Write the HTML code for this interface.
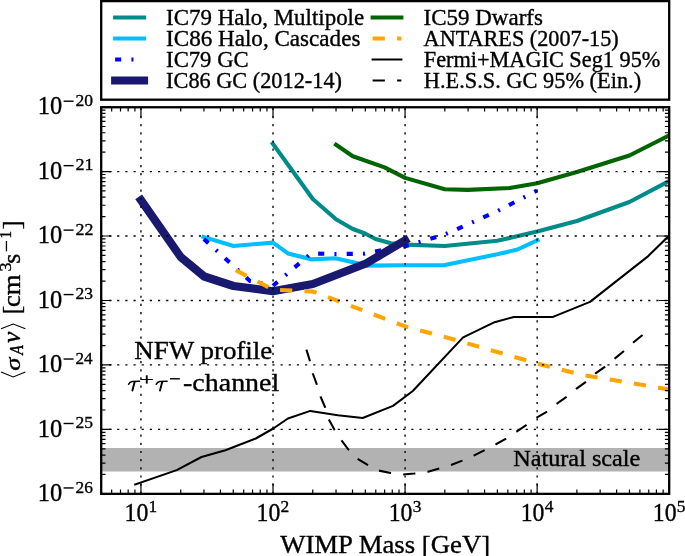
<!DOCTYPE html><html><head><meta charset="utf-8"><style>html,body{margin:0;padding:0;background:#fff;width:685px;height:556px;overflow:hidden}svg{display:block}text{font-family:"Liberation Serif",serif;fill:#000;stroke:#000;stroke-width:0.35px}svg{will-change:transform}</style></head><body>
<svg width="685" height="556" viewBox="0 0 685 556">
<rect width="685" height="556" fill="#fff"/>
<defs><clipPath id="ax"><rect x="101.2" y="107.1" width="568.0" height="386.75"/></clipPath></defs>
<g clip-path="url(#ax)">
<rect x="101.2" y="448.0" width="568.0" height="23.5" fill="#b2b2b2"/>
<polyline points="272.80,143.60 312.80,199.00 336.00,219.30 352.80,229.00 365.00,233.50 375.50,239.00 391.00,243.30 405.10,244.60 444.80,246.00 497.20,240.80 537.10,231.60 576.90,221.00 629.40,202.00 669.20,181.00" fill="none" stroke="#008b8b" stroke-width="4.1" stroke-linejoin="round" stroke-linecap="square"/>
<polyline points="203.50,237.00 233.50,246.00 273.00,242.60 288.00,253.40 312.00,259.40 335.30,258.20 353.00,262.30 366.80,265.60 405.10,265.30 444.80,265.10 497.20,254.30 517.50,249.50 537.50,240.20" fill="none" stroke="#00bfff" stroke-width="4.1" stroke-linejoin="round" stroke-linecap="square"/>
<polyline points="203.90,239.00 250.00,281.00 273.00,285.80" fill="none" stroke="#0000ff" stroke-width="4.1" stroke-linejoin="round" stroke-linecap="butt" stroke-dasharray="6.13 10.2 2.04 10.2" stroke-dashoffset="0"/>
<polyline points="273.00,285.80 311.00,253.50 336.00,254.00 363.50,253.80 380.00,250.50 405.10,246.30" fill="none" stroke="#0000ff" stroke-width="4.1" stroke-linejoin="round" stroke-linecap="butt" stroke-dasharray="6.13 10.2 2.04 10.2" stroke-dashoffset="0.14"/>
<polyline points="405.10,246.30 444.80,234.50 497.20,211.20 537.10,190.50" fill="none" stroke="#0000ff" stroke-width="4.1" stroke-linejoin="round" stroke-linecap="butt" stroke-dasharray="6.13 10.2 2.04 10.2" stroke-dashoffset="2.22"/>
<polyline points="141.00,200.20 180.70,257.00 204.20,276.50 233.50,286.00 272.80,291.20 312.80,284.00 366.00,263.50 405.10,240.40" fill="none" stroke="#191970" stroke-width="8.2" stroke-linejoin="round" stroke-linecap="square"/>
<polyline points="336.00,144.80 352.80,156.20 384.60,167.40 405.10,177.90 444.80,189.20 467.70,189.90 509.80,188.00 537.10,183.30 576.90,172.00 629.40,155.50 669.20,135.40" fill="none" stroke="#006400" stroke-width="4.1" stroke-linejoin="round" stroke-linecap="square"/>
<polyline points="235.80,270.20 273.00,289.60 312.80,291.50 336.00,300.20 405.10,326.40 448.50,338.00 543.70,365.30 583.00,375.00 669.20,389.50" fill="none" stroke="#ffa500" stroke-width="4.1" stroke-linejoin="round" stroke-linecap="butt" stroke-dasharray="12.25 12.25" stroke-dashoffset="0"/>
<polyline points="135.20,484.40 176.70,470.10 201.50,457.00 225.40,450.20 255.80,438.50 273.30,428.50 287.90,418.50 310.30,410.90 337.80,415.30 362.70,418.00 393.00,405.90 412.80,391.00 463.10,337.40 494.60,322.20 514.00,316.90 553.00,316.90 590.00,301.90 647.30,256.90 669.20,235.50" fill="none" stroke="#000" stroke-width="2.05" stroke-linejoin="round" stroke-linecap="square"/>
<polyline points="306.40,349.60 309.90,360.90 312.80,373.50 316.90,384.60 320.50,396.50 325.20,407.50 328.70,419.20 334.50,429.70 340.40,439.00 348.50,449.60 356.70,458.20 367.20,464.70 378.90,470.60 390.60,472.90 402.30,474.60 414.00,473.60 428.00,471.80 439.60,468.30 450.90,465.00 462.30,460.60 473.70,455.70 484.20,450.40 495.50,444.50 506.10,438.70 516.60,431.70 526.20,425.20 536.70,417.70 547.20,411.50 556.90,403.70 566.50,396.90 576.20,388.80 585.90,381.80 595.60,373.40 605.30,366.50 615.00,358.40 624.70,350.40 633.60,342.30 642.60,334.90" fill="none" stroke="#000" stroke-width="2.05" stroke-linejoin="round" stroke-linecap="butt" stroke-dasharray="12.25 12.25" stroke-dashoffset="0"/>
<g stroke="#000" stroke-width="1.35" stroke-dasharray="2.2 5.97" fill="none"><line x1="140.95" y1="493.85" x2="140.95" y2="107.1" stroke-dashoffset="0.1"/><line x1="273.02" y1="493.85" x2="273.02" y2="107.1" stroke-dashoffset="0.1"/><line x1="405.08" y1="493.85" x2="405.08" y2="107.1" stroke-dashoffset="0.1"/><line x1="537.14" y1="493.85" x2="537.14" y2="107.1" stroke-dashoffset="0.1"/><line x1="101.2" y1="171.56" x2="669.2" y2="171.56" stroke-dashoffset="0.4"/><line x1="101.2" y1="236.02" x2="669.2" y2="236.02" stroke-dashoffset="0.4"/><line x1="101.2" y1="300.48" x2="669.2" y2="300.48" stroke-dashoffset="0.4"/><line x1="101.2" y1="364.93" x2="669.2" y2="364.93" stroke-dashoffset="0.4"/><line x1="101.2" y1="429.39" x2="669.2" y2="429.39" stroke-dashoffset="0.4"/></g>
</g>
<path d="M101.20,493.85v-4.3M101.20,107.1v4.3M111.66,493.85v-4.3M111.66,107.1v4.3M120.50,493.85v-4.3M120.50,107.1v4.3M128.16,493.85v-4.3M128.16,107.1v4.3M134.91,493.85v-4.3M134.91,107.1v4.3M140.95,493.85v-10.4M140.95,107.1v10.4M180.71,493.85v-4.3M180.71,107.1v4.3M203.96,493.85v-4.3M203.96,107.1v4.3M220.46,493.85v-4.3M220.46,107.1v4.3M233.26,493.85v-4.3M233.26,107.1v4.3M243.72,493.85v-4.3M243.72,107.1v4.3M252.56,493.85v-4.3M252.56,107.1v4.3M260.22,493.85v-4.3M260.22,107.1v4.3M266.97,493.85v-4.3M266.97,107.1v4.3M273.02,493.85v-10.4M273.02,107.1v10.4M312.77,493.85v-4.3M312.77,107.1v4.3M336.03,493.85v-4.3M336.03,107.1v4.3M352.52,493.85v-4.3M352.52,107.1v4.3M365.32,493.85v-4.3M365.32,107.1v4.3M375.78,493.85v-4.3M375.78,107.1v4.3M384.62,493.85v-4.3M384.62,107.1v4.3M392.28,493.85v-4.3M392.28,107.1v4.3M399.03,493.85v-4.3M399.03,107.1v4.3M405.08,493.85v-10.4M405.08,107.1v10.4M444.83,493.85v-4.3M444.83,107.1v4.3M468.09,493.85v-4.3M468.09,107.1v4.3M484.59,493.85v-4.3M484.59,107.1v4.3M497.38,493.85v-4.3M497.38,107.1v4.3M507.84,493.85v-4.3M507.84,107.1v4.3M516.68,493.85v-4.3M516.68,107.1v4.3M524.34,493.85v-4.3M524.34,107.1v4.3M531.10,493.85v-4.3M531.10,107.1v4.3M537.14,493.85v-10.4M537.14,107.1v10.4M576.89,493.85v-4.3M576.89,107.1v4.3M600.15,493.85v-4.3M600.15,107.1v4.3M616.65,493.85v-4.3M616.65,107.1v4.3M629.45,493.85v-4.3M629.45,107.1v4.3M639.90,493.85v-4.3M639.90,107.1v4.3M648.74,493.85v-4.3M648.74,107.1v4.3M656.40,493.85v-4.3M656.40,107.1v4.3M663.16,493.85v-4.3M663.16,107.1v4.3M669.20,493.85v-10.4M669.20,107.1v10.4M101.2,107.10h10.4M669.2,107.10h-10.4M101.2,171.56h10.4M669.2,171.56h-10.4M101.2,152.15h4.3M669.2,152.15h-4.3M101.2,140.80h4.3M669.2,140.80h-4.3M101.2,132.75h4.3M669.2,132.75h-4.3M101.2,126.50h4.3M669.2,126.50h-4.3M101.2,121.40h4.3M669.2,121.40h-4.3M101.2,117.08h4.3M669.2,117.08h-4.3M101.2,113.35h4.3M669.2,113.35h-4.3M101.2,110.05h4.3M669.2,110.05h-4.3M101.2,236.02h10.4M669.2,236.02h-10.4M101.2,216.61h4.3M669.2,216.61h-4.3M101.2,205.26h4.3M669.2,205.26h-4.3M101.2,197.21h4.3M669.2,197.21h-4.3M101.2,190.96h4.3M669.2,190.96h-4.3M101.2,185.86h4.3M669.2,185.86h-4.3M101.2,181.54h4.3M669.2,181.54h-4.3M101.2,177.80h4.3M669.2,177.80h-4.3M101.2,174.51h4.3M669.2,174.51h-4.3M101.2,300.48h10.4M669.2,300.48h-10.4M101.2,281.07h4.3M669.2,281.07h-4.3M101.2,269.72h4.3M669.2,269.72h-4.3M101.2,261.67h4.3M669.2,261.67h-4.3M101.2,255.42h4.3M669.2,255.42h-4.3M101.2,250.32h4.3M669.2,250.32h-4.3M101.2,246.00h4.3M669.2,246.00h-4.3M101.2,242.26h4.3M669.2,242.26h-4.3M101.2,238.97h4.3M669.2,238.97h-4.3M101.2,364.93h10.4M669.2,364.93h-10.4M101.2,345.53h4.3M669.2,345.53h-4.3M101.2,334.18h4.3M669.2,334.18h-4.3M101.2,326.13h4.3M669.2,326.13h-4.3M101.2,319.88h4.3M669.2,319.88h-4.3M101.2,314.78h4.3M669.2,314.78h-4.3M101.2,310.46h4.3M669.2,310.46h-4.3M101.2,306.72h4.3M669.2,306.72h-4.3M101.2,303.42h4.3M669.2,303.42h-4.3M101.2,429.39h10.4M669.2,429.39h-10.4M101.2,409.99h4.3M669.2,409.99h-4.3M101.2,398.64h4.3M669.2,398.64h-4.3M101.2,390.58h4.3M669.2,390.58h-4.3M101.2,384.34h4.3M669.2,384.34h-4.3M101.2,379.23h4.3M669.2,379.23h-4.3M101.2,374.92h4.3M669.2,374.92h-4.3M101.2,371.18h4.3M669.2,371.18h-4.3M101.2,367.88h4.3M669.2,367.88h-4.3M101.2,493.85h10.4M669.2,493.85h-10.4M101.2,474.45h4.3M669.2,474.45h-4.3M101.2,463.10h4.3M669.2,463.10h-4.3M101.2,455.04h4.3M669.2,455.04h-4.3M101.2,448.80h4.3M669.2,448.80h-4.3M101.2,443.69h4.3M669.2,443.69h-4.3M101.2,439.38h4.3M669.2,439.38h-4.3M101.2,435.64h4.3M669.2,435.64h-4.3M101.2,432.34h4.3M669.2,432.34h-4.3" stroke="#000" stroke-width="1.2" fill="none"/>
<rect x="101.2" y="107.25" width="568.0" height="386.6" fill="none" stroke="#000" stroke-width="2.3"/>
<text x="134.23" y="358.50" font-size="24.58" textLength="138.11" lengthAdjust="spacingAndGlyphs">NFW profile</text>
<g transform="translate(0,0)" fill="none" stroke="#000" stroke-linecap="round"><path d="M128.6,384.2 Q129.7,381.6 132.2,381.4 L139.5,381.2" stroke-width="1.55"/><path d="M134.6,382 L132.4,390.6" stroke-width="1.9"/></g>
<text x="139.64" y="385.31" font-size="17" textLength="14.49" lengthAdjust="spacingAndGlyphs">+</text>
<g transform="translate(27.6,0)" fill="none" stroke="#000" stroke-linecap="round"><path d="M128.6,384.2 Q129.7,381.6 132.2,381.4 L139.5,381.2" stroke-width="1.55"/><path d="M134.6,382 L132.4,390.6" stroke-width="1.9"/></g>
<rect x="170" y="378.1" width="9.9" height="1.4" fill="#000"/>
<text x="183.02" y="390.80" font-size="25.04" textLength="96.26" lengthAdjust="spacingAndGlyphs">-channel</text>
<text x="513.19" y="466.30" font-size="22.44" textLength="127.18" lengthAdjust="spacingAndGlyphs">Natural scale</text>
<text x="124.54" y="520.70" font-size="25.0" textLength="23.75" lengthAdjust="spacingAndGlyphs">10</text>
<text x="148.55" y="511.7" font-size="17.4">1</text>
<text x="256.60" y="520.70" font-size="25.0" textLength="23.75" lengthAdjust="spacingAndGlyphs">10</text>
<text x="280.62" y="511.7" font-size="17.4">2</text>
<text x="388.66" y="520.70" font-size="25.0" textLength="23.75" lengthAdjust="spacingAndGlyphs">10</text>
<text x="412.68" y="511.7" font-size="17.4">3</text>
<text x="520.72" y="520.70" font-size="25.0" textLength="23.75" lengthAdjust="spacingAndGlyphs">10</text>
<text x="544.74" y="511.7" font-size="17.4">4</text>
<text x="652.78" y="520.70" font-size="25.0" textLength="23.75" lengthAdjust="spacingAndGlyphs">10</text>
<text x="676.80" y="511.7" font-size="17.4">5</text>
<text x="37.72" y="114.30" font-size="24.6" textLength="24.43" lengthAdjust="spacingAndGlyphs">10</text>
<rect x="63.6" y="100.50" width="10" height="1.4" fill="#000"/>
<text x="75.50" y="105.90" font-size="17.4" textLength="17.51" lengthAdjust="spacingAndGlyphs">20</text>
<text x="37.72" y="178.76" font-size="24.6" textLength="24.43" lengthAdjust="spacingAndGlyphs">10</text>
<rect x="63.6" y="164.96" width="10" height="1.4" fill="#000"/>
<text x="75.48" y="170.36" font-size="17.4" textLength="18.00" lengthAdjust="spacingAndGlyphs">21</text>
<text x="37.72" y="243.22" font-size="24.6" textLength="24.43" lengthAdjust="spacingAndGlyphs">10</text>
<rect x="63.6" y="229.42" width="10" height="1.4" fill="#000"/>
<text x="75.48" y="234.82" font-size="17.4" textLength="17.90" lengthAdjust="spacingAndGlyphs">22</text>
<text x="37.72" y="307.68" font-size="24.6" textLength="24.43" lengthAdjust="spacingAndGlyphs">10</text>
<rect x="63.6" y="293.88" width="10" height="1.4" fill="#000"/>
<text x="75.50" y="299.28" font-size="17.4" textLength="17.51" lengthAdjust="spacingAndGlyphs">23</text>
<text x="37.72" y="372.13" font-size="24.6" textLength="24.43" lengthAdjust="spacingAndGlyphs">10</text>
<rect x="63.6" y="358.33" width="10" height="1.4" fill="#000"/>
<text x="75.51" y="363.73" font-size="17.4" textLength="17.14" lengthAdjust="spacingAndGlyphs">24</text>
<text x="37.72" y="436.59" font-size="24.6" textLength="24.43" lengthAdjust="spacingAndGlyphs">10</text>
<rect x="63.6" y="422.79" width="10" height="1.4" fill="#000"/>
<text x="75.50" y="428.19" font-size="17.4" textLength="17.51" lengthAdjust="spacingAndGlyphs">25</text>
<text x="37.72" y="501.05" font-size="24.6" textLength="24.43" lengthAdjust="spacingAndGlyphs">10</text>
<rect x="63.6" y="487.25" width="10" height="1.4" fill="#000"/>
<text x="75.51" y="492.65" font-size="17.4" textLength="17.33" lengthAdjust="spacingAndGlyphs">26</text>
<text x="280.20" y="553.00" font-size="25.34" textLength="209.99" lengthAdjust="spacingAndGlyphs">WIMP Mass [GeV]</text>
<g transform="translate(20.2,377.7) rotate(-90)">
<path d="M5.7,-19.2 L0.7,-7.0 L5.7,5.2 M48.9,-19.2 L53.7,-7.0 L48.9,5.2" stroke="#000" stroke-width="1.1" fill="none"/>
<text x="6.83" y="0.00" font-size="21.75" textLength="13.12" lengthAdjust="spacingAndGlyphs" font-style="italic">σ</text>
<text x="23.06" y="3.20" font-size="17.88" textLength="9.57" lengthAdjust="spacingAndGlyphs" font-style="italic">A</text>
<text x="34.74" y="0.00" font-size="24.57" textLength="11.33" lengthAdjust="spacingAndGlyphs" font-style="italic">v</text>
<text x="63.43" y="0.00" font-size="25.5" textLength="8.40" lengthAdjust="spacingAndGlyphs">[</text>
<text x="70.67" y="0.00" font-size="25.32" textLength="32.54" lengthAdjust="spacingAndGlyphs">cm</text>
<text x="106.19" y="-9.40" font-size="17.4" textLength="9.05" lengthAdjust="spacingAndGlyphs">3</text>
<text x="114.07" y="0.00" font-size="25.32" textLength="10.01" lengthAdjust="spacingAndGlyphs">s</text>
<rect x="126.4" y="-14.4" width="10.3" height="1.3" fill="#000"/>
<text x="139.11" y="-9.40" font-size="17.4" textLength="7.61" lengthAdjust="spacingAndGlyphs">1</text>
<text x="148.10" y="0.00" font-size="25.5" textLength="9.47" lengthAdjust="spacingAndGlyphs">]</text>
</g>
<rect x="101.2" y="1.1" width="568.0" height="98.6" fill="#fff" stroke="#000" stroke-width="2.3"/>
<line x1="115.1" y1="17.5" x2="144.1" y2="17.5" stroke="#008b8b" stroke-width="4" stroke-linecap="square"/>
<line x1="115.1" y1="38.5" x2="144.1" y2="38.5" stroke="#00bfff" stroke-width="4" stroke-linecap="square"/>
<line x1="115.1" y1="59.5" x2="142.5" y2="59.5" stroke="#0000ff" stroke-width="4.1" stroke-linecap="butt" stroke-dasharray="6.13 10.2 2.04 10.2"/>
<line x1="115.1" y1="80.60000000000001" x2="144.1" y2="80.60000000000001" stroke="#191970" stroke-width="8" stroke-linecap="square"/>
<line x1="372.6" y1="17.5" x2="401.4" y2="17.5" stroke="#006400" stroke-width="4" stroke-linecap="square"/>
<line x1="372.6" y1="38.5" x2="401.4" y2="38.5" stroke="#ffa500" stroke-width="4" stroke-linecap="butt" stroke-dasharray="12.25 12.25"/>
<line x1="372.6" y1="59.5" x2="401.4" y2="59.5" stroke="#000" stroke-width="2" stroke-linecap="square"/>
<line x1="372.6" y1="80.60000000000001" x2="401.4" y2="80.60000000000001" stroke="#000" stroke-width="2" stroke-linecap="butt" stroke-dasharray="12.25 12.25"/>
<text x="166.10" y="24.80" font-size="22.44" textLength="198.06" lengthAdjust="spacingAndGlyphs">IC79 Halo, Multipole</text>
<text x="166.09" y="45.80" font-size="22.44" textLength="194.31" lengthAdjust="spacingAndGlyphs">IC86 Halo, Cascades</text>
<text x="166.11" y="66.80" font-size="22.44" textLength="82.52" lengthAdjust="spacingAndGlyphs">IC79 GC</text>
<text x="166.12" y="87.90" font-size="22.44" textLength="175.85" lengthAdjust="spacingAndGlyphs">IC86 GC (2012-14)</text>
<text x="423.60" y="24.80" font-size="22.44" textLength="119.27" lengthAdjust="spacingAndGlyphs">IC59 Dwarfs</text>
<text x="423.59" y="45.80" font-size="22.44" textLength="195.11" lengthAdjust="spacingAndGlyphs">ANTARES (2007-15)</text>
<text x="423.74" y="66.80" font-size="22.44" textLength="236.62" lengthAdjust="spacingAndGlyphs">Fermi+MAGIC Seg1 95%</text>
<text x="423.74" y="87.90" font-size="22.44" textLength="217.41" lengthAdjust="spacingAndGlyphs">H.E.S.S. GC 95% (Ein.)</text>
</svg></body></html>
